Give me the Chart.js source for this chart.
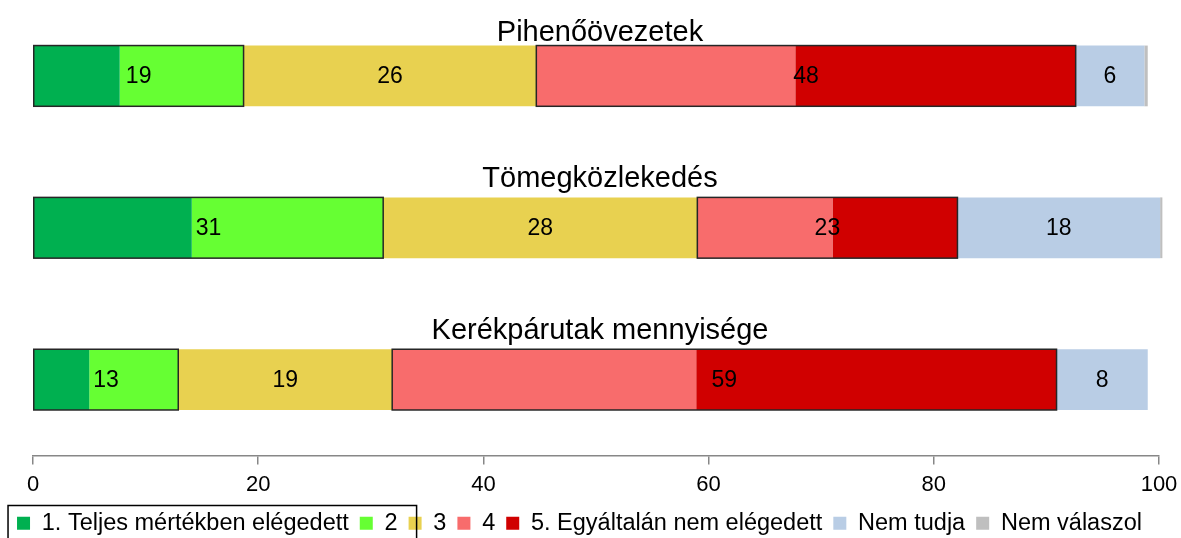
<!DOCTYPE html>
<html>
<head>
<meta charset="utf-8">
<script src="https://cdn.jsdelivr.net/npm/chart.js@4"></script>
<style>
  html, body { margin: 0; padding: 0; background: #fff; }
  canvas { display: block; }
</style>
</head>
<body>
<canvas id="chart" width="1181" height="538"></canvas>
<script>
const categories = ['Pihenőövezetek', 'Tömegközlekedés', 'Kerékpárutak mennyisége'];
const seriesNames = ['1. Teljes mértékben elégedett', '2', '3', '4', '5. Egyáltalán nem elégedett', 'Nem tudja', 'Nem válaszol'];

const teljesen = [7.7, 14.1, 5.0];
const ketto = [11.0, 17.0, 7.9];
const harom = [26.0, 27.9, 19.0];
const negy = [23.0, 12.0, 27.0];
const egyaltalan = [24.9, 11.1, 32.0];
const nemTudja = [6.1, 18.0, 8.1];
const nemValaszol = [0.3, 0.2, 0];

// numbers printed on the bars (1+2, 3, 4+5, nem tudja)
const labElegedett = [19, 31, 13];
const labKozepes = [26, 28, 19];
const labNemElegedett = [48, 23, 59];
const labNemTudja = [6, 18, 8];

const xTicks = [0, 20, 40, 60, 80, 100];

const segColors = ['#00B050', '#66FF33', '#E8D150', '#F86C6C', '#D00000', '#B9CDE5', '#BFBFBF'];
const FONT = "'Liberation Sans', Arial, sans-serif";

Chart.defaults.font.family = FONT;
Chart.defaults.color = '#000';

const values = [teljesen, ketto, harom, negy, egyaltalan, nemTudja, nemValaszol];
const datasets = seriesNames.map((name, k) => ({
  label: name,
  data: values[k],
  backgroundColor: segColors[k],
  borderWidth: 0,
  stack: 'a',
  clip: false,
  categoryPercentage: 1,
  barPercentage: 0.4
}));

// which datasets are drawn as one box with one number
const groups = [
  { from: 0, to: 1, labels: labElegedett, box: true },
  { from: 2, to: 2, labels: labKozepes, box: false },
  { from: 3, to: 4, labels: labNemElegedett, box: true },
  { from: 5, to: 5, labels: labNemTudja, box: false }
];

// the titles were placed by hand in the original, not quite evenly
const titleLift = [35, 41, 41];

const groupPlugin = {
  id: 'groups',
  afterDatasetsDraw(chart) {
    const ctx = chart.ctx;
    ctx.save();
    groups.forEach(g => {
      const a = chart.getDatasetMeta(g.from).data;
      const b = chart.getDatasetMeta(g.to).data;
      categories.forEach((c, i) => {
        const pa = a[i].getProps(['x', 'y', 'base', 'height'], true);
        const pb = b[i].getProps(['x'], true);
        const left = pa.base, right = pb.x;
        if (g.box) {
          ctx.strokeStyle = '#262626';
          ctx.lineWidth = 1.5;
          ctx.strokeRect(left, pa.y - pa.height / 2, right - left, pa.height);
        }
        ctx.fillStyle = '#000';
        ctx.font = '23px ' + FONT;
        ctx.textAlign = 'center';
        ctx.textBaseline = 'middle';
        ctx.fillText(String(g.labels[i]), (left + right) / 2, pa.y + 1);
      });
    });

    // category titles above the bars
    const area = chart.chartArea;
    const y = chart.scales.y;
    ctx.font = '29px ' + FONT;
    ctx.textAlign = 'center';
    ctx.textBaseline = 'alphabetic';
    categories.forEach((c, i) => {
      ctx.fillText(c, (area.left + area.right) / 2 + 4, y.getPixelForValue(i) - titleLift[i]);
    });
    ctx.restore();
  },
  afterDraw(chart) {
    // selection frame round the first two legend entries
    const hb = chart.legend.legendHitBoxes;
    const ctx = chart.ctx;
    ctx.save();
    ctx.strokeStyle = '#000';
    ctx.lineWidth = 1.5;
    const l = hb[0].left - 9;
    const r = hb[1].left + hb[1].width + 19;
    const t = hb[0].top - 6;
    ctx.strokeRect(l, t, r - l, chart.height - t + 10);
    ctx.restore();
  }
};

new Chart(document.getElementById('chart'), {
  type: 'bar',
  data: { labels: categories, datasets: datasets },
  options: {
    indexAxis: 'y',
    responsive: false,
    animation: false,
    devicePixelRatio: 1,
    layout: { padding: { top: 0, right: 22, bottom: -7, left: 0 } },
    scales: {
      x: {
        stacked: true,
        min: 0,
        max: 100,
        afterBuildTicks: s => { s.ticks = xTicks.map(v => ({ value: v })); },
        grid: {
          drawOnChartArea: false, drawTicks: true, tickLength: 13,
          tickBorderDash: [8, 40], color: '#878787', lineWidth: 1.5
        },
        border: { display: true, color: '#878787', width: 1.5 },
        ticks: { font: { size: 22, lineHeight: 1.18 }, padding: 3, color: '#000', maxRotation: 0 }
      },
      y: {
        stacked: true,
        grid: { display: false },
        border: { display: false },
        ticks: { display: false },
        afterFit: s => { s.width = 33; }
      }
    },
    plugins: {
      legend: {
        position: 'bottom',
        labels: { boxWidth: 13, boxHeight: 13, padding: 11, font: { size: 23.5 }, color: '#000' }
      },
      tooltip: { enabled: false }
    }
  },
  plugins: [groupPlugin]
});
</script>
</body>
</html>
